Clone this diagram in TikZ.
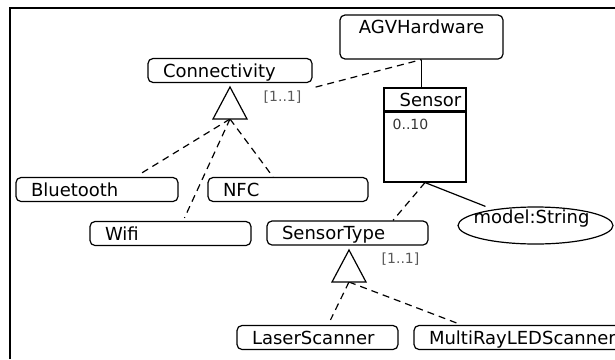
\documentclass[tikz,border=0pt]{standalone}
\usepackage{fontspec}
\setmainfont{DejaVu Sans}
\usetikzlibrary{shapes.geometric}

\begin{document}
\begin{tikzpicture}[x=1pt, y=-1pt,
    every node/.style={font=\fontsize{18}{21}\selectfont},
    cls/.style={draw, rounded corners=5pt, line width=1.2pt, text width=#1,
      align=left, inner xsep=15pt, inner ysep=0pt, minimum height=24pt, text depth=0pt},
    cls/.default=132pt,
    mult/.style={font=\fontsize{14}{16}\selectfont, text=black!65, inner sep=0pt},
    gen/.style={line width=1.2pt, dash pattern=on 7pt off 5pt},
    assoc/.style={line width=1.2pt},
    tri/.style={line width=1.2pt, fill=white}]

  \useasboundingbox (0,0) rectangle (615,359);
  \clip (0,0) rectangle (615,359);

  % frame
  \draw[line width=2pt] (10,359) -- (10,8) -- (615,8);

  % classes
  \node[draw, rounded corners=5pt, line width=1.2pt, minimum width=163pt, minimum height=44pt,
    label={[anchor=north, inner sep=5pt]north:AGVHardware}] (agv) at (421.5,37) {};
  \node[cls=134pt] (conn) at (230,70.5) {Connectivity};
  \node[cls] (bt) at (97,189.5) {Bluetooth};
  \node[cls=130pt] (nfc) at (288,189.5) {NFC};
  \node[cls=131pt] (wifi) at (170.5,233.5) {Wifi};
  \node[cls=131pt] (st) at (347.5,233) {SensorType};
  \node[cls=131pt] (ls) at (317.5,337.5) {LaserScanner};
  \node[cls=200pt] (mr) at (529,337.5) {MultiRayLEDScanner};

  % sensor class with header
  \node[draw, line width=1.1pt, minimum width=82pt, minimum height=94pt] (sensor) at (425,135) {};
  \draw[line width=2.5pt] ([yshift=-24pt]sensor.north west) -- ([yshift=-24pt]sensor.north east);
  \node[anchor=base east, inner sep=0pt] (sname) at ([xshift=-5pt,yshift=-18.7pt]sensor.north east) {Sensor};
  \node[anchor=base west, inner sep=0pt, font=\fontsize{14}{16}\selectfont, text=black!80]
    (scard) at ([xshift=9pt,yshift=-42pt]sensor.north west) {0..10};

  % attribute
  \node[draw, ellipse, line width=1.2pt, minimum width=155pt, minimum height=37pt, inner sep=0pt,
    label={[xshift=-4pt, yshift=7pt]center:{model:String}}] (model) at (535.5,225.5) {};

  % generalisation points
  \coordinate (gen1) at (230,119);
  \coordinate (gen2) at (349,282);

  % connectors
  \draw[gen] ([xshift=3pt,yshift=-4pt]conn.south east) -- (agv.south);
  \draw[assoc] (agv.south) -- (agv.south |- sensor.north);
  \draw[assoc] (sensor.south) -- ([xshift=-50pt]model.north);
  \draw[gen] (sensor.south) -- ([xshift=45.5pt]st.north);

  \draw[gen] (gen1) -- ([xshift=-40pt,yshift=2pt]bt.north east);
  \draw[gen] (gen1) -- ([xshift=14pt,yshift=3pt]wifi.north);
  \draw[gen] (gen1) -- ([xshift=-15pt]nfc.north);
  \draw[gen] (gen2) -- ([xshift=13pt,yshift=5pt]ls.north);
  \draw[gen] (gen2) -- ([xshift=43pt,yshift=2pt]mr.north west);

  \foreach \g in {gen1,gen2}{
    \draw[tri] (\g) ++(-17,0) -- ++(17,-32) -- ++(17,32) -- cycle;
  }

  % multiplicities
  \node[mult] (m1) at (282.5,97) {[1..1]};
  \node[mult] (m2) at (400.5,259) {[1..1]};
\end{tikzpicture}
\end{document}
